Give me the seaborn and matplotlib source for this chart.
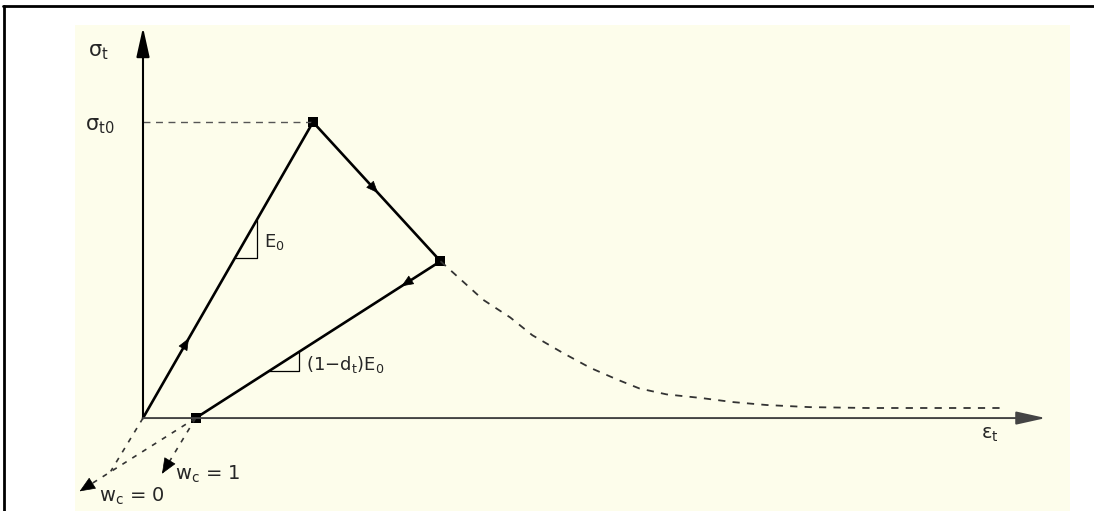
import matplotlib
matplotlib.use('Agg')
import matplotlib.pyplot as plt
from matplotlib.lines import Line2D
import pandas as pd
import seaborn as sns

# strain scaled by eps_t0, stress scaled by sigma_t0
path_strain = [0.0, 1.0, 1.75, 0.31]
path_stress = [0.0, 1.0, 0.53, 0.0]
path_points = ['origin', 'peak', 'unload', 'residual']

# softening branch (dashed) beyond the unloading point
soft_strain = [1.75, 2.0, 2.16, 2.29, 2.47, 2.63, 2.79, 2.92, 3.08, 3.28,
               3.47, 3.67, 3.92, 4.26, 4.57, 5.04]
soft_stress = [0.53, 0.40, 0.34, 0.28, 0.22, 0.17, 0.13, 0.10, 0.08, 0.068,
               0.054, 0.044, 0.037, 0.034, 0.034, 0.034]

# stiffness recovery branches into compression
branch_names = ['origin', 'w_c = 0', 'w_c = 1']
branch_x0 = [0.0, 0.31, 0.31]
branch_y0 = [0.0, 0.0, 0.0]
branch_x1 = [-0.19, -0.38, 0.11]
branch_y1 = [-0.18, -0.25, -0.19]
branch_arrow = [False, True, True]

axis_x_end = 5.31
axis_y_end = 1.32

sns.set_theme(style='white')
plt.rcParams['font.family'] = ['DejaVu Sans']
plt.rcParams['mathtext.default'] = 'regular'

fig = plt.figure(figsize=(10.94, 5.11), dpi=100)
ax = fig.add_axes([75 / 1094, 0, 995 / 1094, 486 / 511])
ax.set_xlim(-0.4, 5.453)
ax.set_ylim(-0.314, 1.328)
ax.set_facecolor('#fdfdeb')
for s in ax.spines.values():
    s.set_visible(False)
ax.set_xticks([])
ax.set_yticks([])


def head(x0, y0, x1, y1, frac, scale=13):
    xa = x0 + (x1 - x0) * frac
    ya = y0 + (y1 - y0) * frac
    dx = (x1 - x0) * 0.02
    dy = (y1 - y0) * 0.02
    ax.annotate('', xy=(xa + dx, ya + dy), xytext=(xa - dx, ya - dy),
                arrowprops=dict(arrowstyle='-|>,head_length=0.6,head_width=0.25',
                                color='black', lw=0.5, mutation_scale=scale,
                                shrinkA=0, shrinkB=0))


# axes with arrowheads
ax.annotate('', xy=(0, axis_y_end), xytext=(0, 0),
            arrowprops=dict(arrowstyle='-|>,head_length=0.9,head_width=0.2',
                            color='black', lw=1.5, mutation_scale=20,
                            shrinkA=0, shrinkB=0))
ax.annotate('', xy=(axis_x_end, 0), xytext=(0, 0),
            arrowprops=dict(arrowstyle='-|>,head_length=0.9,head_width=0.2',
                            color='#444444', lw=1.4, mutation_scale=20,
                            shrinkA=0, shrinkB=0))

# sigma_t0 reference line
peak = pd.DataFrame({'x': [0, path_strain[1]], 'y': [path_stress[1]] * 2})
sns.lineplot(data=peak, x='x', y='y', color='#555555', lw=1.0,
             linestyle=(0, (5, 4)), ax=ax)

# load - soften - unload path
path = pd.DataFrame({'x': path_strain, 'y': path_stress, 'pt': path_points})
sns.lineplot(data=path, x='x', y='y', sort=False, estimator=None,
             color='black', lw=1.9, ax=ax)
sns.scatterplot(data=path.iloc[1:], x='x', y='y', marker='s', s=45,
                color='black', linewidth=0, ax=ax)

soft = pd.DataFrame({'x': soft_strain, 'y': soft_stress})
sns.lineplot(data=soft, x='x', y='y', sort=False, estimator=None,
             color='#333333', lw=1.3, linestyle=(0, (4, 4)), ax=ax)

# direction arrows along the path
head(path_strain[0], path_stress[0], path_strain[1], path_stress[1], 0.25)
head(path_strain[1], path_stress[1], path_strain[2], path_stress[2], 0.49)
head(path_strain[2], path_stress[2], path_strain[3], path_stress[3], 0.14)

# recovery branches
for name, x0, y0, x1, y1, arr in zip(branch_names, branch_x0, branch_y0,
                                     branch_x1, branch_y1, branch_arrow):
    b = pd.DataFrame({'x': [x0, x1], 'y': [y0, y1]})
    sns.lineplot(data=b, x='x', y='y', sort=False, estimator=None,
                 color='#333333', lw=1.2, linestyle=(0, (3, 4)), ax=ax)
    if arr:
        head(x0, y0, x1, y1, 0.97, scale=17)

# slope triangles
for (xa, ya, xb, yb), lbl in [
        ((path_strain[0], path_stress[0], path_strain[1], path_stress[1]), r'$E_0$'),
        ((path_strain[3], path_stress[3], path_strain[2], path_stress[2]), r'(1$-$d$_t$)E$_0$')]:
    slope = (yb - ya) / (xb - xa)
    if lbl == r'$E_0$':
        y_low, x_right = 0.54, 0.67
    else:
        y_low, x_right = 0.159, 0.92
    x_low = xa + (y_low - ya) / slope
    y_high = ya + slope * (x_right - xa)
    tri = pd.DataFrame({'x': [x_low, x_right, x_right], 'y': [y_low, y_low, y_high]})
    sns.lineplot(data=tri, x='x', y='y', sort=False, estimator=None,
                 color='black', lw=0.9, ax=ax)
    ax.text(x_right + 0.04, (y_low + y_high) / 2 - 0.01, lbl,
            fontsize=13, ha='left', va='center')

ax.set_xlabel('')
ax.set_ylabel('')

ax.text(-0.265, 1.236, r'$\sigma_t$', fontsize=15, ha='center', va='center')
ax.text(-0.253, 0.986, r'$\sigma_{t0}$', fontsize=15, ha='center', va='center')
ax.text(4.98, -0.054, r'$\epsilon_t$', fontsize=14, ha='center', va='center')
ax.text(0.19, -0.19, r'w$_c$ = 1', fontsize=14, ha='left', va='center')
ax.text(-0.26, -0.265, r'w$_c$ = 0', fontsize=14, ha='left', va='center')

# page frame
fig.add_artist(Line2D([3 / 1094, 1], [1 - 6 / 511] * 2,
                      transform=fig.transFigure, color='black', lw=2))
fig.add_artist(Line2D([4 / 1094] * 2, [0, 1 - 6 / 511],
                      transform=fig.transFigure, color='black', lw=2))

fig.savefig('out.png', dpi=100)
